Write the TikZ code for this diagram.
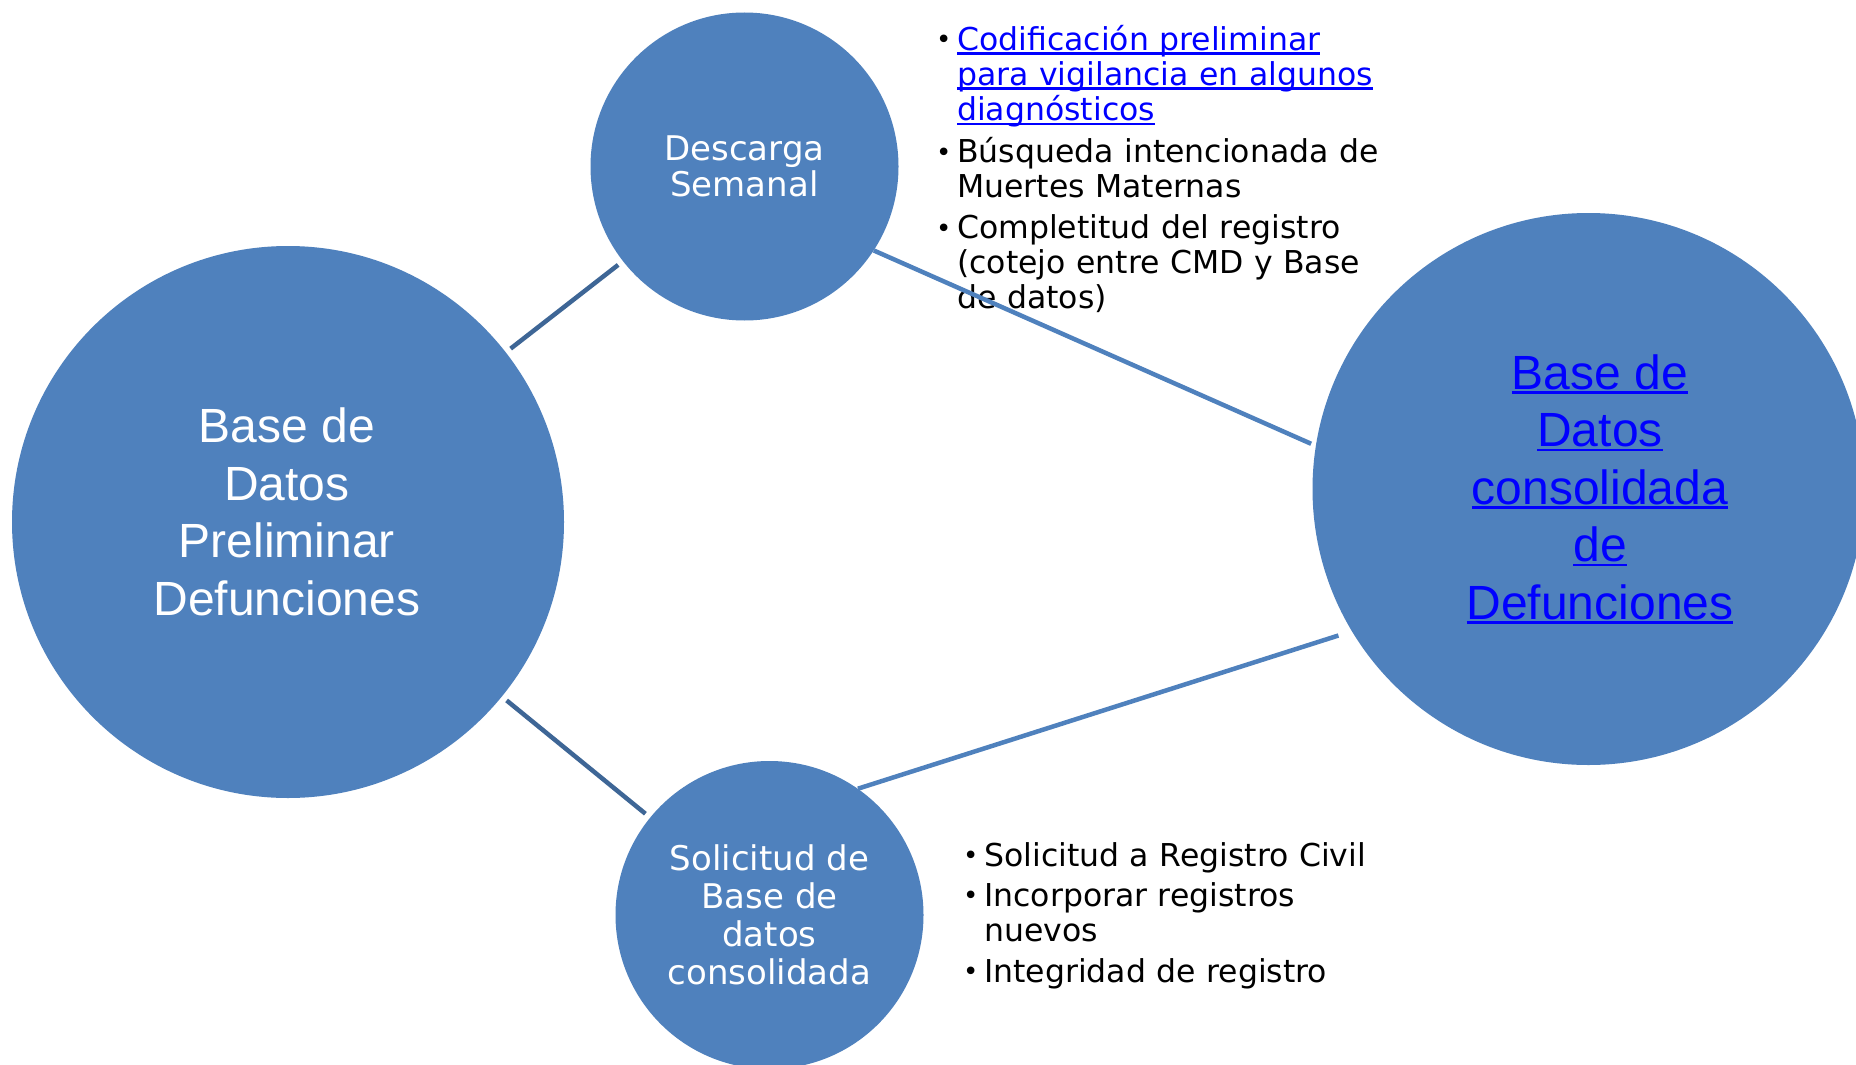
\documentclass[tikz,border=0pt]{standalone}
\usepackage{fontspec}
\setmainfont{Liberation Sans}
\newfontfamily\verdana{DejaVu Sans}
\definecolor{circfill}{RGB}{79,129,189}
\definecolor{linkdark}{RGB}{62,102,150}
\definecolor{hyperblue}{RGB}{0,0,255}
\tikzset{
	big/.style={circle, minimum size=552pt, inner sep=0pt, fill=circfill},
	bigtext/.style={align=center, inner sep=0pt, font=\fontsize{48}{57.5}\selectfont},
	small/.style={circle, minimum size=308pt, inner sep=0pt, fill=circfill, align=center, text=white},
	connect/.style={line width=4.5pt, shorten >=6pt, shorten <=6pt},
	list/.style={anchor=north west, inner sep=0pt, text width=480pt, align=left, font=\verdana\fontsize{31.5}{35}\selectfont}
}
\newsavebox{\lnkbox}
\newcommand{\lnk}[1]{\textcolor{hyperblue}{\sbox{\lnkbox}{#1}\rlap{\rule[-4.5pt]{\wd\lnkbox}{2.5pt}}\usebox{\lnkbox}}}
\newcommand{\bitem}[1]{\par\noindent\makebox[21pt][l]{\raisebox{1.5pt}{\fontsize{26}{26}\selectfont\textbullet}}\begin{tabular}[t]{@{}l@{}}#1\end{tabular}}
\newcommand{\bgap}{\par\vspace{5pt}}

\begin{document}
\begin{tikzpicture}[x=1pt, y=-1pt]
\useasboundingbox (0,0) rectangle (1856,1065);
\clip (0,0) rectangle (1856,1065);
\fill[white] (0,0) rectangle (1856,1065);

% circles
\node[big] (Prelim) at (288,522) {};
\node[big] (Consol) at (1588.5,489) {};
\node[small, font=\verdana\fontsize{34}{35.5}\selectfont] (Descarga) at (744.5,166.5) {Descarga\\Semanal};
\node[small, font=\verdana\fontsize{34}{38}\selectfont] (Solicitud) at (769.5,915) {Solicitud de\\Base de\\datos\\consolidada};
\node[bigtext, text=white] (PrelimText) at (287,512) {Base de\\Datos\\Preliminar\\Defunciones};
\node[bigtext] (ConsolText) at (1600,489) {\lnk{Base de}\\\lnk{Datos}\\\lnk{consolidada}\\\lnk{de}\\\lnk{Defunciones}};

% bullet lists
\node[list] (ListTop) at (936,15) {%
\bitem{\lnk{Codificación preliminar}\\\lnk{para vigilancia en algunos}\\\lnk{diagnósticos}}\bgap
\bitem{Búsqueda intencionada de\\Muertes Maternas}\bgap
\bitem{Completitud del registro\\(cotejo entre CMD y Base\\de datos)}};
\node[list] (ListBot) at (963,831) {%
\bitem{Solicitud a Registro Civil}\bgap
\bitem{Incorporar registros\\nuevos}\bgap
\bitem{Integridad de registro}};

% connectors
\draw[connect, linkdark] (Prelim) -- (Descarga);
\draw[connect, linkdark] (Prelim) -- (Solicitud);
\draw[connect, circfill, shorten <=0pt, shorten >=5pt] (Descarga.-33.7) -- (Consol.171.8);
\draw[connect, circfill, shorten <=0pt, shorten >=14pt] (Solicitud.55.6) -- (Consol.211);
\end{tikzpicture}
\end{document}
